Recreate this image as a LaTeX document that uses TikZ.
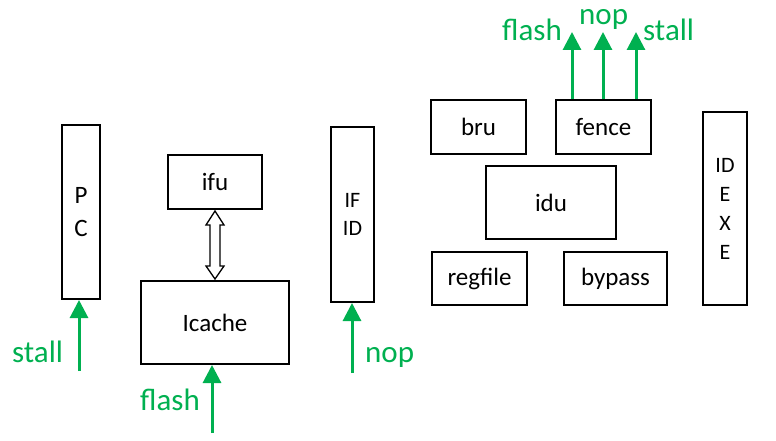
\documentclass[tikz,border=0pt]{standalone}
\usepackage{fontspec}
\setmainfont{Carlito}
\usetikzlibrary{arrows.meta,calc}
\definecolor{sgreen}{RGB}{0,176,80}
\begin{document}
\begin{tikzpicture}[x=1pt,y=-1pt,
  blk/.style={draw=black,line width=2pt,inner sep=0pt,align=center,
    font=\fontsize{25}{30}\selectfont},
  sig/.style={draw=sgreen,line width=3pt,-{Triangle[width=18pt,length=18pt]}},
  siglab/.style={text=sgreen,anchor=base west,inner sep=0pt,font=\fontsize{31}{36}\selectfont}]
\useasboundingbox (0,0) rectangle (776,441);
% blocks
\node[blk,minimum width=38,minimum height=174,font=\fontsize{25}{33}\selectfont] (PC) at (81,212) {P\\C};
\node[blk,minimum width=94,minimum height=54] (ifu) at (215,182) {ifu};
\node[blk,minimum width=148,minimum height=83] (icache) at (215,322.5) {Icache};
\node[blk,minimum width=43,minimum height=175,font=\fontsize{22}{28}\selectfont] (ifid) at (352.5,214.5) {IF\\ID};
\node[blk,minimum width=95,minimum height=54] (bru) at (478.5,127) {bru};
\node[blk,minimum width=95,minimum height=54] (fence) at (603.5,127) {fence};
\node[blk,minimum width=130,minimum height=73] (idu) at (551,202.5) {idu};
\node[blk,minimum width=95,minimum height=53] (regfile) at (479.5,278.5) {regfile};
\node[blk,minimum width=103,minimum height=53] (bypass) at (615.5,278.5) {bypass};
\node[blk,minimum width=44,minimum height=193,font=\fontsize{22}{29}\selectfont] (idexe) at (725,208.5) {ID\\E\\X\\E};
% open double arrow between ifu and Icache
\draw[line width=1.3pt,fill=white]
  ($(ifu.south)+(0,1)$) -- ++(9,14) -- ++(-4,0) -- ($(icache.north)+(5,-14)$)
  -- ++(4,0) -- ($(icache.north)+(0,-1)$) -- ++(-9,-13) -- ++(4,0)
  -- ($(ifu.south)+(-5,15)$) -- ++(-4,0) -- cycle;
% green control signals
\coordinate (pcs) at (79,371);
\coordinate (ics) at (212,433);
\coordinate (ids) at (352,373);
\draw[sig] (pcs) -- (pcs |- PC.south);
\draw[sig] (ics) -- (ics |- icache.south);
\draw[sig] (ids) -- (ids |- ifid.south);
\coordinate (f1) at (572,32);
\coordinate (f2) at (603,32);
\coordinate (f3) at (636,32);
\draw[sig] (f1 |- fence.north) -- (f1);
\draw[sig] (f2 |- fence.north) -- (f2);
\draw[sig] (f3 |- fence.north) -- (f3);
\node[siglab] (l1) at (12,362) {stall};
\node[siglab] (l2) at (140,410) {flash};
\node[siglab] (l3) at (365,362) {nop};
\node[siglab] (l4) at (502,41) {flash};
\node[siglab] (l5) at (579,25) {nop};
\node[siglab] (l6) at (643,41) {stall};
\end{tikzpicture}
\end{document}
